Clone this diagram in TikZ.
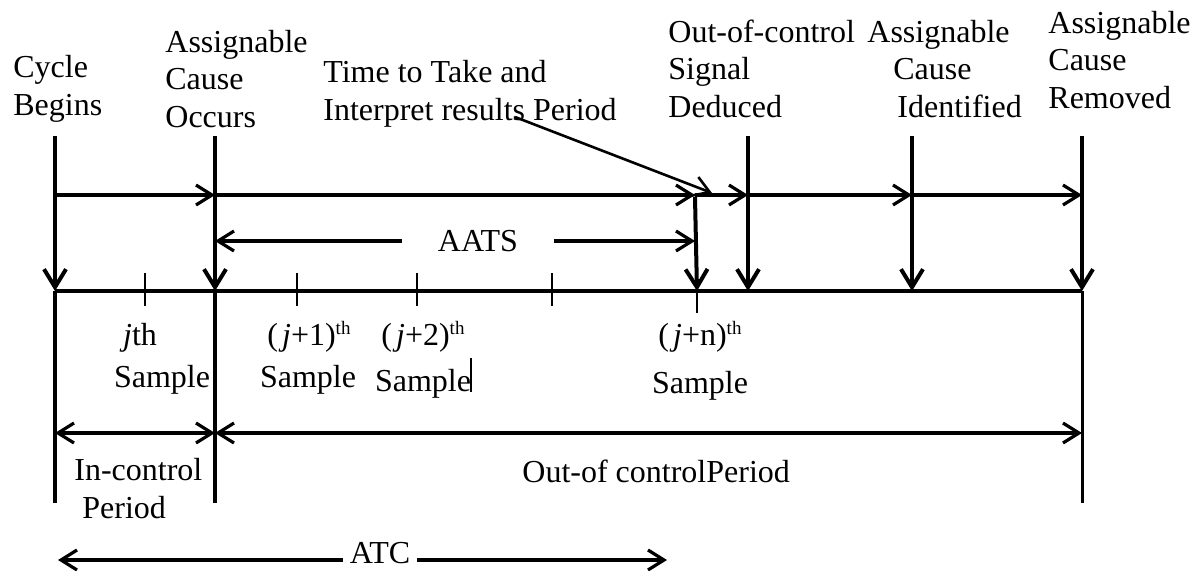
\documentclass[tikz,border=0pt]{standalone}
\usepackage{fontspec}
\setmainfont{Liberation Serif}
\usetikzlibrary{arrows.meta}

\newcommand{\thsup}{\raisebox{5.5pt}{\fontsize{9.5}{10}\selectfont th}}

\tikzset{
  lbl/.style={anchor=base west,align=left,inner sep=0pt,font=\fontsize{16}{18.75}\selectfont},
  smp/.style={anchor=base,inner sep=0pt,font=\fontsize{16}{18.75}\selectfont},
  harr/.style={line width=1.6pt,-{Straight Barb[length=8pt,width=10pt]}},
  darr/.style={line width=1.6pt,{Straight Barb[length=8pt,width=10pt]}-{Straight Barb[length=8pt,width=10pt]}},
  varr/.style={line width=2pt,-{Straight Barb[length=9pt,width=11pt]}},
  tickmark/.style={line width=0.8pt}
}

\begin{document}
\begin{tikzpicture}[x=0.5pt,y=-0.5pt]
    \useasboundingbox (0,0) rectangle (1201,570);
    \foreach \name/\x in {cb/55,ac/215,od/748,id/912,rm/1082}
        \coordinate (\name) at (\x,136);
    \coordinate (axis) at (55,291);
    \coordinate (rowT) at (55,195);
    \coordinate (rowD) at (55,433);
    \coordinate (low) at (55,503);
    \coordinate (jnT) at (695,197);
    \coordinate (jnB) at (697,291);
    \coordinate (ttp) at (515,117);
    \coordinate (ttq) at (712,193);
    \coordinate (atcL) at (58,560);
    \coordinate (atcR) at (667,560);

    \node [lbl] (lblcb) at (13,115) {Cycle\\Begins};
    \node [lbl] (lblac) at (165,127) {Assignable\\Cause\\Occurs};
    \node [lbl] (lbltt) at (323,120) {Time to Take and\\Interpret results Period};
    \node [lbl] (lblod) at (668,117) {Out-of-control\\Signal\\Deduced};
    \node [lbl] (lblid) at (867,117) {Assignable\\\hspace*{13pt}Cause\\\hspace*{15pt}Identified};
    \node [lbl] (lblrm) at (1048,108) {Assignable\\Cause\\Removed};

    \draw [line width=1.6pt] (axis) -- (rm |- axis);
    \foreach \x in {145,297,417,552}
        \draw [tickmark] (\x,273) -- (\x,306);
    \draw [tickmark] (jnB) -- (697,313);
    \foreach \name in {cb,ac,od,id,rm}
        \draw [varr] (\name) -- (\name |- axis);
    \draw [varr] (jnT) -- (jnB);
    \draw [line width=2pt] (cb |- axis) -- (cb |- low);
    \draw [line width=2pt] (ac |- axis) -- (ac |- low);
    \draw [line width=1.5pt] (rm |- axis) -- (rm |- low);

    \draw [harr] (cb |- rowT) -- (ac |- rowT);
    \draw [harr] (ac |- rowT) -- (jnT |- rowT);
    \draw [harr] (jnT |- rowT) -- (od |- rowT);
    \draw [harr] (od |- rowT) -- (id |- rowT);
    \draw [harr] (id |- rowT) -- (rm |- rowT);
    \draw [harr,line width=1.3pt] (ttp) -- (ttq);

    \node [font=\fontsize{16}{18.75}\selectfont,inner xsep=18pt,inner ysep=0pt] (aats) at (478,241) {AATS};
    \draw [harr] (aats.west) -- (ac |- aats);
    \draw [harr] (aats.east) -- (jnT |- aats);

    \foreach \n/\xa/\xb/\yb/\txt in {j0/140/162/387/{\textit{j}th},
        j1/309/308/387/{(\kern2pt\textit{j}+1)\thsup},
        j2/423/423/391/{(\kern2pt\textit{j}+2)\thsup},
        jn/700/700/393/{(\kern2pt\textit{j}+n)\thsup}}
    {
        \node [smp] (\n-a) at (\xa,345) {\txt};
        \node [smp] (\n-b) at (\xb,\yb) {Sample};
    }
    \draw [line width=1pt] (471,358) -- (471,392);

    \draw [darr] (cb |- rowD) -- (ac |- rowD);
    \draw [darr] (ac |- rowD) -- (rm |- rowD);
    \node [lbl] (incp) at (74,518) {In-control\\\hspace*{4pt}Period};
    \node [lbl] (outp) at (522,482) {Out-of controlPeriod};

    \node [font=\fontsize{16}{18.75}\selectfont,inner xsep=3pt,inner ysep=0pt] (atc) at (380,553) {ATC};
    \draw [harr] (atc.west |- atcL) -- (atcL);
    \draw [harr] (atc.east |- atcR) -- (atcR);
\end{tikzpicture}
\end{document}
